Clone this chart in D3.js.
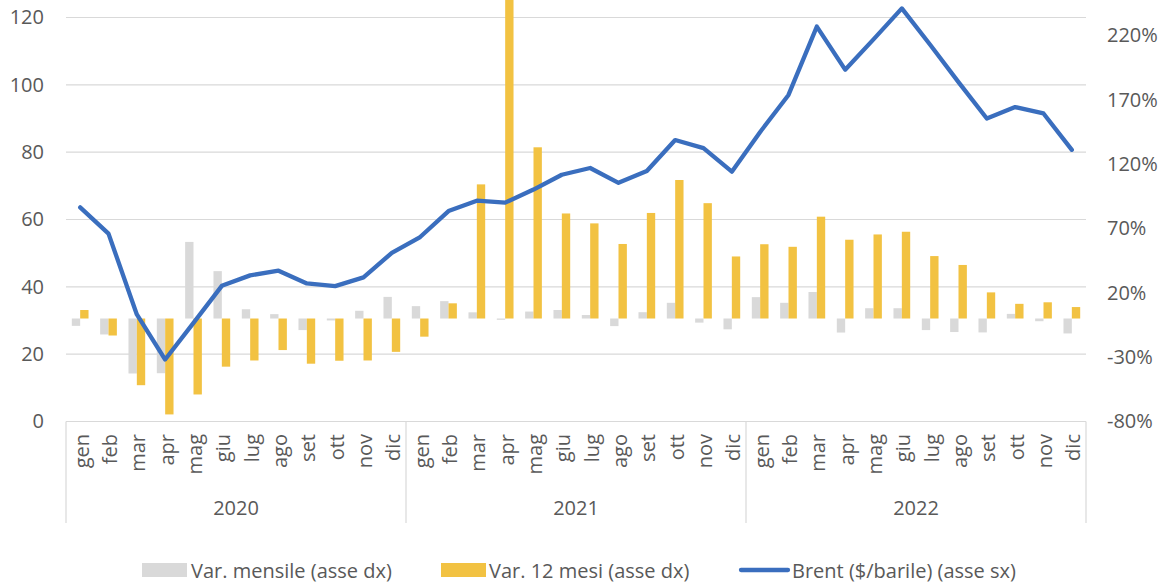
<!DOCTYPE html>
<html>
<head>
<meta charset="utf-8">
<script src="https://cdn.jsdelivr.net/npm/d3@7"></script>
<style>
  html, body { margin: 0; padding: 0; background: #fff; }
  svg { display: block; font-family: "Open Sans", sans-serif; }
</style>
</head>
<body>
<svg id="chart" width="1169" height="585"></svg>
<script>
const years = ["2020", "2021", "2022"];
const months = ["gen","feb","mar","apr","mag","giu","lug","ago","set","ott","nov","dic"];
const brent = [
  63.6, 55.8, 31.8, 18.4, 29.3, 40.3, 43.4, 44.8, 41.0, 40.2, 42.8, 50.1,
  54.8, 62.5, 65.6, 65.0, 68.9, 73.3, 75.3, 70.9, 74.4, 83.6, 81.2, 74.2,
  86.0, 97.0, 117.3, 104.5, 113.5, 122.7, 111.9, 100.8, 90.0, 93.4, 91.5, 80.7
];
const varMensile = [
  -5.7, -12.4, -42.7, -42.5, 59.5, 36.8, 7.2, 3.4, -9.0, -1.5, 6.0, 16.8,
  9.6, 13.5, 4.8, -1.0, 5.4, 6.6, 2.7, -5.9, 4.9, 12.2, -3.2, -8.4,
  16.6, 12.2, 20.6, -10.9, 8.0, 8.0, -9.0, -10.5, -10.8, 3.6, -2.1, -11.6
];
const var12Mesi = [
  6.6, -13.2, -51.8, -74.5, -59.0, -37.4, -32.6, -24.5, -35.1, -32.8, -32.6, -25.9,
  -14.1, 11.8, 104.2, 250, 133.0, 81.6, 73.9, 57.9, 82.0, 107.6, 89.6, 48.2,
  57.7, 55.7, 79.1, 61.2, 65.3, 67.4, 48.5, 41.6, 20.3, 11.4, 12.6, 8.9
];
const leftTicks = [0, 20, 40, 60, 80, 100, 120];
const rightTicks = [-80, -30, 20, 70, 120, 170, 220];
const legendLabels = ["Var. mensile (asse dx)", "Var. 12 mesi (asse dx)", "Brent ($/barile) (asse sx)"];

const colGray = "#D9D9D9", colYellow = "#F2C242", colBlue = "#3A6EBE", colText = "#595959", colGrid = "#D9D9D9";
const fs = "20px";

const svg = d3.select("#chart");
const L = 66, R = 1086, B = 421.5;

const idx = d3.range(years.length * months.length);
const x0 = d3.scaleBand().domain(idx).range([L, R]).paddingInner(0.41).paddingOuter(0.205);
const x1 = d3.scaleBand().domain(["m", "y"]).range([0, x0.bandwidth()]);
const step = x0.step();
const cx = i => x0(i) + x0.bandwidth() / 2;

const yL = d3.scaleLinear().domain([0, 120]).range([B, 17.5]);
const yR = d3.scaleLinear().domain([-80, 220]).range([B, 35.3]);

// gridlines
svg.append("g").selectAll("line").data(leftTicks.slice(1)).join("line")
  .attr("x1", L).attr("x2", R).attr("y1", d => yL(d)).attr("y2", d => yL(d))
  .attr("stroke", colGrid).attr("stroke-width", 1.2);

// left axis
const gl = svg.append("g").attr("transform", `translate(${L - 22},0)`)
  .call(d3.axisLeft(yL).tickValues(leftTicks).tickSize(0).tickPadding(0));
gl.select(".domain").remove();
gl.selectAll("text").attr("fill", colText).style("font-size", fs).style("font-family", "Open Sans");

// right axis
const gr = svg.append("g").attr("transform", `translate(${R + 21},0)`)
  .call(d3.axisRight(yR).tickValues(rightTicks).tickSize(0).tickPadding(0).tickFormat(d => d + "%"));
gr.select(".domain").remove();
gr.selectAll("text").attr("fill", colText).style("font-size", fs).style("font-family", "Open Sans");

// bars
const y0 = yR(0);
svg.append("g").selectAll("rect").data(varMensile).join("rect")
  .attr("x", (d, i) => x0(i) + x1("m"))
  .attr("width", x1.bandwidth())
  .attr("y", d => Math.min(yR(d), y0))
  .attr("height", d => Math.abs(yR(d) - y0))
  .attr("fill", colGray);
svg.append("g").selectAll("rect").data(var12Mesi).join("rect")
  .attr("x", (d, i) => x0(i) + x1("y"))
  .attr("width", x1.bandwidth())
  .attr("y", d => Math.min(yR(d), y0))
  .attr("height", d => Math.abs(yR(d) - y0))
  .attr("fill", colYellow);

// category axis
const ax = svg.append("g");
ax.append("line").attr("x1", L).attr("x2", R).attr("y1", B).attr("y2", B)
  .attr("stroke", colGrid).attr("stroke-width", 1.2);
const bounds = d3.range(years.length + 1).map(k => L + k * months.length * step);
ax.selectAll("line.sep").data(bounds).join("line").attr("class", "sep")
  .attr("x1", d => d).attr("x2", d => d).attr("y1", B).attr("y2", 523)
  .attr("stroke", colGrid).attr("stroke-width", 1.2);
ax.selectAll("text.m").data(idx).join("text").attr("class", "m")
  .attr("transform", i => `translate(${cx(i) + 1},434) rotate(-90)`)
  .attr("text-anchor", "end").attr("dominant-baseline", "central")
  .attr("fill", colText).style("font-size", fs)
  .text(i => months[i % months.length]);
ax.selectAll("text.yr").data(years).join("text").attr("class", "yr")
  .attr("x", (d, k) => (bounds[k] + bounds[k + 1]) / 2).attr("y", 515)
  .attr("text-anchor", "middle").attr("fill", colText).style("font-size", fs)
  .text(d => d);

// line
const line = d3.line().x((d, i) => cx(i)).y(d => yL(d));
svg.append("path").datum(brent).attr("d", line)
  .attr("fill", "none").attr("stroke", colBlue).attr("stroke-width", 4.3)
  .attr("stroke-linejoin", "round").attr("stroke-linecap", "round");

// legend
const lg = svg.append("g");
const ly = 570;
lg.append("rect").attr("x", 142).attr("y", ly - 7).attr("width", 45).attr("height", 14).attr("fill", colGray);
lg.append("rect").attr("x", 441).attr("y", ly - 7).attr("width", 45).attr("height", 14).attr("fill", colYellow);
lg.append("line").attr("x1", 741).attr("x2", 788).attr("y1", ly).attr("y2", ly)
  .attr("stroke", colBlue).attr("stroke-width", 4.3).attr("stroke-linecap", "round");
const lx = [191, 489, 792];
lg.selectAll("text").data(legendLabels).join("text")
  .attr("x", (d, i) => lx[i]).attr("y", ly).attr("dominant-baseline", "central")
  .attr("fill", colText).style("font-size", fs).text(d => d);
</script>
</body>
</html>
